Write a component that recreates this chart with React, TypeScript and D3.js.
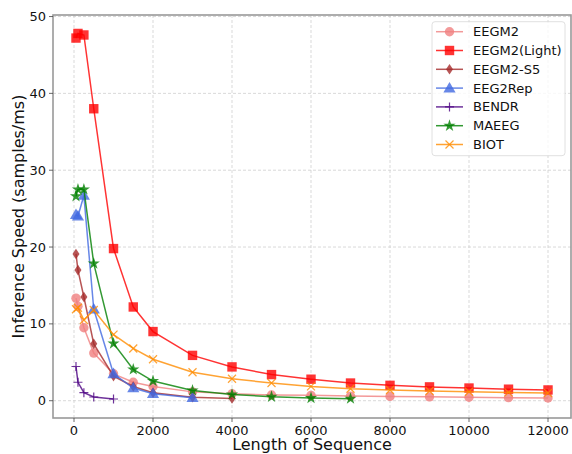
import React from "react";
import * as d3 from "d3";

const seriesNames = ["EEGM2", "EEGM2(Light)", "EEGM2-S5", "EEG2Rep", "BENDR", "MAEEG", "BIOT"];

const xEEGM2 = [50, 100, 250, 500, 1000, 1500, 2000, 3000, 4000, 5000, 6000, 7000, 8000, 9000, 10000, 11000, 12000];
const yEEGM2 = [13.35, 12.3, 9.5, 6.2, 3.5, 2.4, 1.85, 1.15, 0.9, 0.75, 0.7, 0.6, 0.56, 0.5, 0.45, 0.4, 0.36];

const xLight = [50, 100, 250, 500, 1000, 1500, 2000, 3000, 4000, 5000, 6000, 7000, 8000, 9000, 10000, 11000, 12000];
const yLight = [47.2, 47.8, 47.6, 38.0, 19.8, 12.2, 9.0, 5.9, 4.4, 3.4, 2.8, 2.3, 2.0, 1.8, 1.65, 1.5, 1.4];

const xS5 = [50, 100, 250, 500, 1000, 1500, 2000, 3000, 4000];
const yS5 = [19.1, 17.0, 13.5, 7.4, 3.2, 1.85, 1.05, 0.45, 0.3];

const xRep = [50, 100, 250, 500, 1000, 1500, 2000, 3000];
const yRep = [24.2, 24.0, 26.7, 11.9, 3.5, 1.65, 0.9, 0.4];

const xBENDR = [50, 100, 250, 500, 1000];
const yBENDR = [4.45, 2.4, 1.05, 0.48, 0.22];

const xMAEEG = [50, 100, 250, 500, 1000, 1500, 2000, 3000, 4000, 5000, 6000, 7000];
const yMAEEG = [26.6, 27.5, 27.5, 17.85, 7.45, 4.07, 2.56, 1.34, 0.82, 0.52, 0.36, 0.27];

const xBIOT = [50, 100, 250, 500, 1000, 1500, 2000, 3000, 4000, 5000, 6000, 7000, 8000, 9000, 10000, 11000, 12000];
const yBIOT = [11.9, 12.1, 10.5, 11.8, 8.6, 6.8, 5.4, 3.7, 2.86, 2.3, 1.86, 1.56, 1.4, 1.26, 1.17, 1.08, 1.0];

const xTicks = [0, 2000, 4000, 6000, 8000, 10000, 12000];
const yTicks = [0, 10, 20, 30, 40, 50];

const seriesX = [xEEGM2, xLight, xS5, xRep, xBENDR, xMAEEG, xBIOT];
const seriesY = [yEEGM2, yLight, yS5, yRep, yBENDR, yMAEEG, yBIOT];
const colors = ["#F08080", "#FF0000", "#A52A2A", "#4169E1", "#4B0082", "#008000", "#FF8C00"];
const markers = ["circle", "square", "thin_diamond", "triangle", "plus", "star", "x"];

const W = 572, H = 454;
const left = 53, right = 571, top = 15, bottom = 418;
const FONT = "DejaVu Sans, sans-serif";

const xScale = d3.scaleLinear().domain([-532, 12582]).range([left, right]);
const yScale = d3.scaleLinear().domain([-2.25, 50.2]).range([bottom, top]);

function Marker({ kind, x, y, color }: { kind: string; x: number; y: number; color: string }) {
  const op = 0.8;
  if (kind === "circle") return <circle cx={x} cy={y} r={4.7} fill={color} opacity={op} />;
  if (kind === "square") return <rect x={x - 4.7} y={y - 4.7} width={9.4} height={9.4} fill={color} opacity={op} />;
  if (kind === "thin_diamond")
    return <path d={`M${x},${y - 5.3} L${x + 3.5},${y} L${x},${y + 5.3} L${x - 3.5},${y} Z`} fill={color} opacity={op} />;
  if (kind === "triangle") {
    const p = d3.symbol().type(d3.symbolTriangle).size(64)();
    return <path d={p || ""} transform={`translate(${x},${y + 0.8})`} fill={color} opacity={op} />;
  }
  if (kind === "star") {
    const p = d3.symbol().type(d3.symbolStar).size(46)();
    return <path d={p || ""} transform={`translate(${x},${y})`} fill={color} opacity={op} />;
  }
  if (kind === "plus")
    return <path d={`M${x - 4.5},${y} H${x + 4.5} M${x},${y - 4.5} V${y + 4.5}`} stroke={color} strokeWidth={1.2} fill="none" opacity={op} />;
  if (kind === "x")
    return <path d={`M${x - 4},${y - 4} L${x + 4},${y + 4} M${x - 4},${y + 4} L${x + 4},${y - 4}`} stroke={color} strokeWidth={1.2} fill="none" opacity={op} />;
  return null;
}

export default function App() {
  const line = d3.line<[number, number]>().x((d) => xScale(d[0])).y((d) => yScale(d[1]));
  const legX = 432, legY = 21.7, legW = 133, legH = 134;
  const rowH = 18.8;
  return (
    <svg width={W} height={H} style={{ position: "absolute", left: 0, top: 0, background: "#fff" }} fontFamily={FONT}>
      <rect x={0} y={0} width={W} height={H} fill="#fff" />
      {xTicks.map((t) => (
        <line key={"gx" + t} x1={xScale(t)} x2={xScale(t)} y1={top} y2={bottom} stroke="#cfcfcf" strokeWidth={0.8} strokeDasharray="3,2" />
      ))}
      {yTicks.map((t) => (
        <line key={"gy" + t} x1={left} x2={right} y1={yScale(t)} y2={yScale(t)} stroke="#cfcfcf" strokeWidth={0.8} strokeDasharray="3,2" />
      ))}
      {seriesNames.map((name, i) => {
        const pts: [number, number][] = seriesX[i].map((xv, j) => [xv, seriesY[i][j]]);
        return (
          <g key={name}>
            <path d={line(pts) || ""} fill="none" stroke={colors[i]} strokeWidth={1.5} opacity={0.8} />
            {pts.map((p, j) => (
              <Marker key={j} kind={markers[i]} x={xScale(p[0])} y={yScale(p[1])} color={colors[i]} />
            ))}
          </g>
        );
      })}
      <rect x={left} y={top} width={right - left} height={bottom - top} fill="none" stroke="#999" strokeWidth={1.6} />
      {xTicks.map((t) => (
        <g key={"tx" + t}>
          <line x1={xScale(t)} x2={xScale(t)} y1={bottom} y2={bottom + 4} stroke="#444" strokeWidth={0.8} />
          <text x={xScale(t)} y={435} textAnchor="middle" fontSize={13} fill="#111">{t}</text>
        </g>
      ))}
      {yTicks.map((t) => (
        <g key={"ty" + t}>
          <line x1={left - 4} x2={left} y1={yScale(t)} y2={yScale(t)} stroke="#444" strokeWidth={0.8} />
          <text x={left - 7} y={yScale(t) + 4.5} textAnchor="end" fontSize={13} fill="#111">{t}</text>
        </g>
      ))}
      <text x={(left + right) / 2} y={450} textAnchor="middle" fontSize={16} fill="#111">Length of Sequence</text>
      <text transform={`translate(24,${(top + bottom) / 2}) rotate(-90)`} textAnchor="middle" fontSize={16} fill="#111">Inference Speed (samples/ms)</text>
      <rect x={legX} y={legY} width={legW} height={legH} rx={3} fill="#fff" fillOpacity={0.8} stroke="#d8d8d8" strokeWidth={0.8} />
      {seriesNames.map((name, i) => {
        const cy = legY + 10 + i * rowH;
        return (
          <g key={"l" + name}>
            <line x1={436} x2={463} y1={cy} y2={cy} stroke={colors[i]} strokeWidth={1.5} opacity={0.8} />
            <Marker kind={markers[i]} x={449.5} y={cy} color={colors[i]} />
            <text x={473} y={cy + 4.5} fontSize={13} fill="#111">{name}</text>
          </g>
        );
      })}
    </svg>
  );
}
